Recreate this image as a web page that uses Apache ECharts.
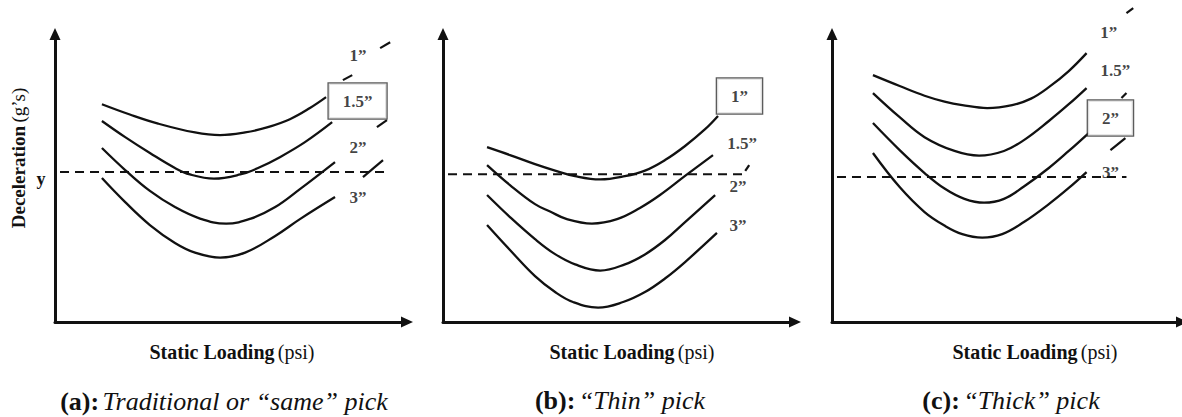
<!DOCTYPE html>
<html><head><meta charset="utf-8">
<script src="https://cdn.jsdelivr.net/npm/echarts@6/dist/echarts.min.js"></script>
<style>html,body{margin:0;padding:0;background:#fff}#c{width:1182px;height:417px}</style>
</head><body><div id="c"></div>
<script>
// ---- Panel (a): Traditional or "same" pick ----
const a1 = [[13.1,74.1],[20.9,70.6],[28.8,67.5],[39.1,64.5],[46.1,63.6],[53.1,64.5],[59.2,66.2],[65.6,69.0],[71.2,72.8],[75.7,76.5]];
const a2 = [[13.1,68.4],[19.6,62.9],[26.5,57.5],[33.5,52.4],[37.7,50.2],[44.4,48.8],[51.7,50.2],[56.7,52.4],[62.8,56.1],[69.8,61.2],[77.4,68.0]];
const a3 = [[13.1,59.2],[19.6,51.7],[26.5,44.6],[33.5,39.1],[40.5,35.2],[47.8,33.5],[54.7,35.2],[61.5,39.1],[68.4,45.2],[78.2,54.4]];
const a4 = [[13.1,49.0],[19.6,40.8],[26.5,33.0],[33.5,26.9],[39.1,23.6],[46.1,21.9],[53.1,23.6],[61.5,29.3],[68.4,35.0],[78.2,42.5]];
const dashA = [[1.4,51.0],[92.2,51.0]];
const fragA = [[[90.8,93.2],[93.6,95.2]],[[80.4,82.3],[83.0,84.0]],[[89.9,66.3],[92.7,68.7]],[[86.0,49.3],[91.6,55.1]]];
const labelsA = [['1”',84.6,90.8],['1.5”',84.5,75.2],['2”',84.6,59.5],['3”',84.6,42.5]];
const boxedA = '1.5”';

// ---- Panel (b): "Thin" pick ----
const b1 = [[12.3,59.5],[18.7,56.8],[25.7,53.7],[31.3,51.5],[36.9,49.6],[43.9,48.5],[50.8,49.6],[56.4,51.5],[62.0,55.1],[67.6,59.9],[73.2,65.6],[76.8,70.1]];
const b2 = [[12.3,53.4],[18.7,46.6],[25.7,40.1],[29.9,37.6],[34.6,35.0],[41.6,33.5],[48.6,35.0],[55.0,38.8],[60.6,43.2],[67.6,49.7],[75.4,56.8]];
const b3 = [[12.3,43.2],[18.7,35.7],[25.7,28.2],[31.3,23.1],[36.9,19.6],[43.9,17.5],[50.8,19.6],[56.4,23.0],[62.0,27.9],[67.6,34.0],[76.0,43.2]];
const b4 = [[12.3,33.0],[18.7,24.5],[25.7,15.6],[31.3,10.2],[36.3,6.8],[43.3,4.9],[50.3,6.8],[56.4,10.2],[62.0,14.8],[67.6,20.4],[76.5,30.3]];
const dashB = [[1.4,50.3],[84.4,50.3]];
const fragB = [[[84.4,51.4],[85.5,53.4]]];
const labelsB = [['1”',82.8,76.9],['1.5”',83.5,60.9],['2”',82.4,46.0],['3”',82.4,33.0]];
const boxedB = '1”';

// ---- Panel (c): "Thick" pick ----
const c1 = [[11.5,84.0],[19.0,80.3],[26.0,77.0],[31.6,75.0],[36.6,73.8],[43.6,72.8],[50.6,73.8],[55.9,76.0],[60.9,79.9],[66.5,85.4],[71.5,91.5]];
const c2 = [[11.5,77.9],[19.0,69.7],[26.0,62.9],[34.4,58.2],[41.3,56.6],[48.3,58.2],[53.9,61.9],[60.9,68.4],[66.5,74.1],[71.5,79.6]];
const c3 = [[11.5,67.7],[19.0,58.5],[26.0,50.7],[31.6,45.4],[37.2,41.9],[42.7,40.6],[48.3,41.9],[53.9,46.1],[60.9,52.4],[66.5,58.2],[72.1,64.3]];
const c4 = [[11.5,57.5],[19.0,45.9],[26.0,37.4],[31.6,32.8],[36.6,29.9],[42.2,28.7],[47.8,29.9],[53.9,34.0],[60.9,40.1],[66.5,45.6],[71.5,51.0]];
const dashC = [[1.4,49.3],[82.7,49.3]];
const fragC = [[[82.7,105.1],[84.6,106.8]],[[81.3,76.2],[82.7,77.9]],[[78.2,58.5],[82.4,62.6]]];
const labelsC = [['1”',77.7,98.6],['1.5”',79.6,85.7],['2”',78.2,69.4],['3”',78.2,51.0]];
const boxedC = '2”';

// ---- Texts ----
const yTitle = ['Deceleration', '(g’s)'];
const yMark = 'y';
const xTitle = ['Static Loading', '(psi)'];
const captions = [['(a):', 'Traditional or “same” pick'], ['(b):', '“Thin” pick'], ['(c):', '“Thick” pick']];

const FONT = '"Liberation Serif", "Times New Roman", serif';
const INK = '#111';
const panels = [
  {curves:[a1,a2,a3,a4], dash:dashA, frags:fragA, labels:labelsA, boxed:boxedA, left:55},
  {curves:[b1,b2,b3,b4], dash:dashB, frags:fragB, labels:labelsB, boxed:boxedB, left:443},
  {curves:[c1,c2,c3,c4], dash:dashC, frags:fragC, labels:labelsC, boxed:boxedC, left:832}
];

const grid = [], xAxis = [], yAxis = [], series = [];
const axisLine = {show:true, onZero:false, symbol:['none','triangle'], symbolSize:[11,12], lineStyle:{color:INK, width:3}};
panels.forEach((p, i) => {
  grid.push({left:p.left, top:34, width:352, height:288});
  xAxis.push({type:'value', gridIndex:i, min:0, max:98.3, axisLine, axisTick:{show:false}, axisLabel:{show:false}, splitLine:{show:false}});
  yAxis.push({type:'value', gridIndex:i, min:0, max:98, axisLine, axisTick:{show:false}, axisLabel:{show:false}, splitLine:{show:false}});
  p.curves.forEach(d => series.push({type:'line', xAxisIndex:i, yAxisIndex:i, data:d, smooth:0.4, symbol:'none', clip:false, silent:true, lineStyle:{color:INK, width:2.3}}));
  series.push({type:'line', xAxisIndex:i, yAxisIndex:i, data:p.dash, symbol:'none', clip:false, silent:true, lineStyle:{color:INK, width:2, type:[9,6]}});
  p.frags.forEach(d => series.push({type:'line', xAxisIndex:i, yAxisIndex:i, data:d, symbol:'none', clip:false, silent:true, lineStyle:{color:INK, width:2.2}}));
  series.push({type:'scatter', xAxisIndex:i, yAxisIndex:i, symbolSize:0, clip:false, silent:true, z:5,
    label:{show:true, position:'inside', formatter:'{b}', color:INK, fontFamily:FONT, fontWeight:'bold', fontSize:17},
    data:p.labels.map(l => {
      const item = {name:l[0], value:[l[1], l[2]]};
      if (l[0] === p.boxed) item.label = {backgroundColor:'#fff', borderColor:'#333', borderWidth:1.3, padding:[9,14]};
      return item;
    })
  });
});

const xTitlePos = [[232,352],[632,352],[1035,352]];
const capPos = [[224,401],[620,400],[1011,400]];
const graphic = [
  {type:'text', x:18, y:158, rotation:Math.PI/2, style:{text:'{b|'+yTitle[0]+'} {n|'+yTitle[1]+'}', align:'center', verticalAlign:'middle',
    rich:{b:{fontFamily:FONT, fontWeight:'bold', fontSize:19, fill:INK}, n:{fontFamily:FONT, fontSize:19, fill:INK}}}},
  {type:'text', x:41, y:179, style:{text:yMark, fontFamily:FONT, fontWeight:'bold', fontSize:18, fill:INK, align:'center', verticalAlign:'middle'}}
];
xTitlePos.forEach(pt => graphic.push({type:'text', x:pt[0], y:pt[1], style:{text:'{b|'+xTitle[0]+'} {n|'+xTitle[1]+'}', align:'center', verticalAlign:'middle',
  rich:{b:{fontFamily:FONT, fontWeight:'bold', fontSize:20, fill:INK}, n:{fontFamily:FONT, fontSize:20, fill:INK}}}}));
captions.forEach((c, i) => graphic.push({type:'text', x:capPos[i][0], y:capPos[i][1], style:{text:'{b|'+c[0]+'} {i|'+c[1]+'}', align:'center', verticalAlign:'middle',
  rich:{b:{fontFamily:FONT, fontWeight:'bold', fontSize:26, fill:INK}, i:{fontFamily:FONT, fontStyle:'italic', fontSize:26, fill:INK}}}}));

const chart = echarts.init(document.getElementById('c'), null, {renderer:'svg'});
chart.setOption({animation:false, backgroundColor:'#fff', grid, xAxis, yAxis, series, graphic});
</script></body></html>
